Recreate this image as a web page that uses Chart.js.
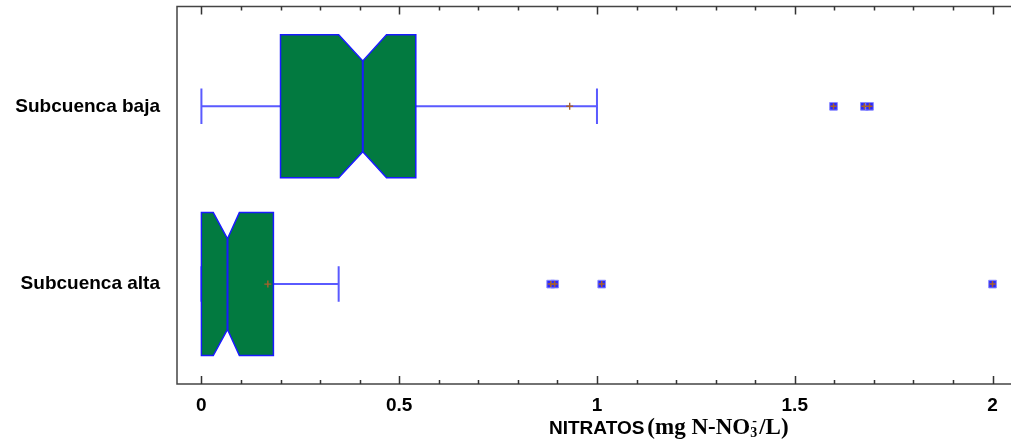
<!DOCTYPE html>
<html>
<head>
<meta charset="utf-8">
<script src="https://cdn.jsdelivr.net/npm/chart.js@4"></script>
<style>
  html, body { margin: 0; padding: 0; background: #ffffff; }
  #wrap { width: 1011px; height: 443px; position: relative; }
</style>
</head>
<body>
<div id="wrap"><canvas id="c"></canvas></div>
<script>
// Groups, bottom to top (y = 0, y = 1)
const categories = ['Subcuenca alta', 'Subcuenca baja'];

// Five-number summaries with notch limits (mg N-NO3-/L)
const whiskerLow  = [0.0,   0.0];
const q1          = [0.0,   0.2];
const notchLow    = [0.03,  0.347];
const medians     = [0.066, 0.408];
const notchHigh   = [0.096, 0.468];
const q3          = [0.182, 0.542];
const whiskerHigh = [0.347, 1.0];
const means       = [0.168, 0.931];

// Outside points
const outliersAlta = [0.883, 0.893, 1.012, 2.0];
const outliersBaja = [1.598, 1.676, 1.689];

// Axis ticks
const xTickValues = [0, 0.5, 1, 1.5, 2];
const xTickLabels = ['0', '0.5', '1', '1.5', '2'];
const minorTickValues = [0, 0.1, 0.2, 0.3, 0.4, 0.5, 0.6, 0.7, 0.8, 0.9, 1.0,
                         1.1, 1.2, 1.3, 1.4, 1.5, 1.6, 1.7, 1.8, 1.9, 2.0];

// Box geometry in y-scale units
const BOX_HALF = 0.402;
const WAIST_HALF = 0.255;
const CAP_HALF = 0.1;

const BOX_FILL = '#027a40';
const BOX_EDGE = '#1a1aff';
const WHISKER = '#5a5aff';
const BROWN = '#a8602c';
const SANS = '"Liberation Sans", Arial, sans-serif';
const SERIF = '"Liberation Serif", "Times New Roman", serif';

const outlierPoints = [
  ...outliersAlta.map(v => ({ x: v, y: 0 })),
  ...outliersBaja.map(v => ({ x: v, y: 1 }))
];
const meanPoints = means.map((v, i) => ({ x: v, y: i }));

const notchedBoxes = {
  id: 'notchedBoxes',
  beforeDatasetsDraw(chart) {
    const { ctx, scales: { x, y } } = chart;
    ctx.save();
    categories.forEach((name, i) => {
      const yc = y.getPixelForValue(i);
      const hb = Math.abs(y.getPixelForValue(i + BOX_HALF) - yc);
      const hw = Math.abs(y.getPixelForValue(i + WAIST_HALF) - yc);
      const hc = Math.abs(y.getPixelForValue(i + CAP_HALF) - yc);
      const px = v => x.getPixelForValue(v);

      // whiskers and caps
      ctx.strokeStyle = WHISKER;
      ctx.lineWidth = 2;
      ctx.beginPath();
      ctx.moveTo(px(whiskerLow[i]), yc); ctx.lineTo(px(q1[i]), yc);
      ctx.moveTo(px(q3[i]), yc); ctx.lineTo(px(whiskerHigh[i]), yc);
      ctx.moveTo(px(whiskerLow[i]), yc - hc); ctx.lineTo(px(whiskerLow[i]), yc + hc);
      ctx.moveTo(px(whiskerHigh[i]), yc - hc); ctx.lineTo(px(whiskerHigh[i]), yc + hc);
      ctx.stroke();

      // notched box
      ctx.beginPath();
      ctx.moveTo(px(q1[i]), yc - hb);
      ctx.lineTo(px(notchLow[i]), yc - hb);
      ctx.lineTo(px(medians[i]), yc - hw);
      ctx.lineTo(px(notchHigh[i]), yc - hb);
      ctx.lineTo(px(q3[i]), yc - hb);
      ctx.lineTo(px(q3[i]), yc + hb);
      ctx.lineTo(px(notchHigh[i]), yc + hb);
      ctx.lineTo(px(medians[i]), yc + hw);
      ctx.lineTo(px(notchLow[i]), yc + hb);
      ctx.lineTo(px(q1[i]), yc + hb);
      ctx.closePath();
      ctx.fillStyle = BOX_FILL;
      ctx.fill();
      ctx.strokeStyle = BOX_EDGE;
      ctx.lineWidth = 1.5;
      ctx.stroke();

      // median
      ctx.beginPath();
      ctx.moveTo(px(medians[i]), yc - hw);
      ctx.lineTo(px(medians[i]), yc + hw);
      ctx.lineWidth = 2;
      ctx.stroke();
    });
    ctx.restore();
  },
  afterDraw(chart) {
    const { ctx, chartArea: a, scales: { x } } = chart;
    ctx.save();
    // frame (open on the right)
    ctx.strokeStyle = '#444444';
    ctx.lineWidth = 1.5;
    ctx.beginPath();
    ctx.moveTo(chart.width, a.top); ctx.lineTo(a.left, a.top);
    ctx.lineTo(a.left, a.bottom); ctx.lineTo(chart.width, a.bottom);
    ctx.stroke();

    // inward tick marks on bottom and top edges
    ctx.lineWidth = 1.5;
    ctx.strokeStyle = '#333333';
    ctx.beginPath();
    minorTickValues.forEach(v => {
      const p = Math.round(x.getPixelForValue(v)) + 0.5;
      const major = xTickValues.some(t => Math.abs(t - v) < 1e-9);
      const len = major ? 8 : 4;
      ctx.moveTo(p, a.bottom); ctx.lineTo(p, a.bottom - len);
      ctx.moveTo(p, a.top); ctx.lineTo(p, a.top + len);
    });
    ctx.stroke();

    // axis title with chemical notation
    ctx.fillStyle = '#000000';
    ctx.textBaseline = 'alphabetic';
    let tx = 549;
    const by = 434;
    ctx.font = 'bold 19px ' + SANS;
    ctx.fillText('NITRATOS', tx, by);
    tx += ctx.measureText('NITRATOS').width + 3;
    ctx.font = 'bold 23px ' + SERIF;
    ctx.fillText('(mg N-NO', tx, by);
    tx += ctx.measureText('(mg N-NO').width;
    ctx.font = 'bold 14px ' + SERIF;
    ctx.fillText('3', tx, by + 3);
    ctx.fillText('-', tx + 2, by - 9);
    tx += ctx.measureText('3').width + 2;
    ctx.font = 'bold 23px ' + SERIF;
    ctx.fillText('/L)', tx, by);
    ctx.restore();
  }
};

new Chart(document.getElementById('c'), {
  type: 'scatter',
  data: {
    datasets: [
      {
        label: 'Atípicos (centro)',
        data: outlierPoints,
        pointStyle: 'cross',
        radius: 3,
        borderColor: BROWN,
        borderWidth: 1.5
      },
      {
        label: 'Media',
        data: meanPoints,
        pointStyle: 'cross',
        radius: 3.5,
        borderColor: BROWN,
        borderWidth: 1.4
      },
      {
        label: 'Atípicos',
        data: outlierPoints,
        pointStyle: 'rect',
        radius: 5.4,
        backgroundColor: '#2828ff',
        borderColor: '#8a8aff',
        borderWidth: 1
      }
    ]
  },
  options: {
    responsive: true,
    maintainAspectRatio: false,
    animation: false,
    events: [],
    layout: { padding: { top: 6, right: 0, left: 0, bottom: 0 } },
    plugins: { legend: { display: false }, tooltip: { enabled: false } },
    scales: {
      x: {
        type: 'linear',
        position: 'bottom',
        min: -0.0617,
        max: 2.0305,
        grid: { display: false, drawTicks: false },
        border: { display: false },
        afterBuildTicks: s => { s.ticks = xTickValues.map(v => ({ value: v })); },
        afterFit: s => { s.height = 59; s.paddingLeft = 0; s.paddingRight = 0; },
        ticks: {
          padding: 10,
          color: '#000000',
          font: { family: SANS, size: 19, weight: 'bold' },
          callback: (v) => xTickLabels[xTickValues.indexOf(v)],
          maxRotation: 0,
          autoSkip: false
        }
      },
      y: {
        type: 'linear',
        min: -0.562,
        max: 1.562,
        grid: { display: false, drawTicks: false },
        border: { display: false },
        afterBuildTicks: s => { s.ticks = categories.map((c, i) => ({ value: i })); },
        afterFit: s => { s.width = 177; s.paddingTop = 0; s.paddingBottom = 0; },
        ticks: {
          padding: 17,
          color: '#000000',
          font: { family: SANS, size: 19, weight: 'bold' },
          callback: (v) => categories[v]
        }
      }
    }
  },
  plugins: [notchedBoxes]
});
</script>
</body>
</html>
